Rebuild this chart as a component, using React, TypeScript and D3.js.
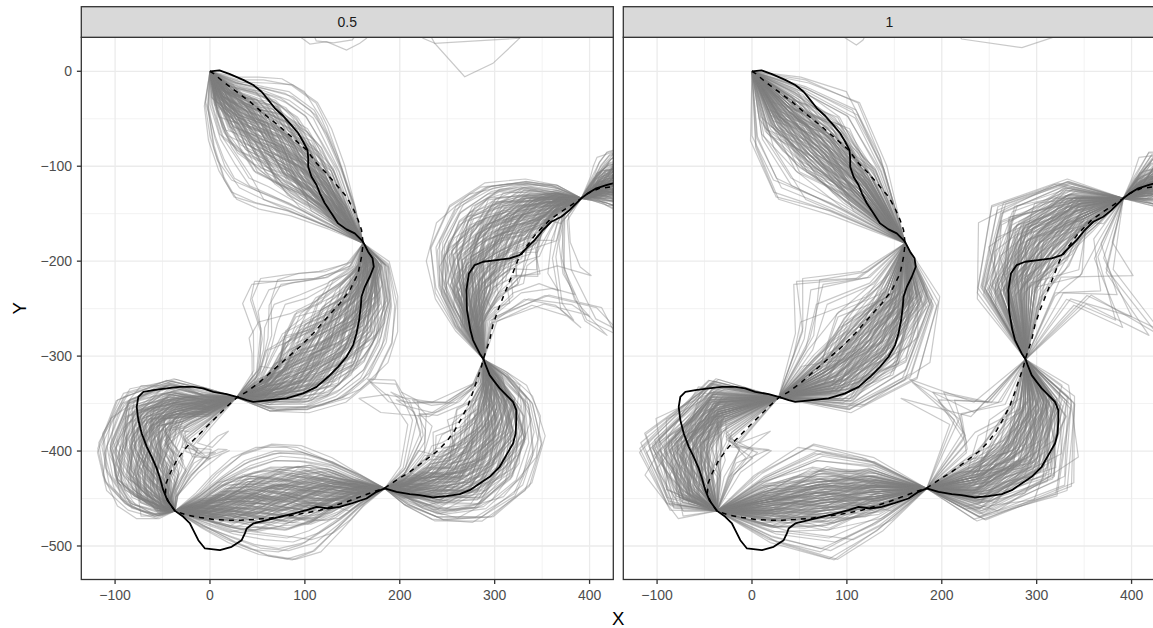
import React from 'react';
import * as d3 from 'd3';

// facet labels and axis breaks
const panels = ['0.5', '1'];
const xTicks = [-100, 0, 100, 200, 300, 400];
const yTicks = [0, -100, -200, -300, -400, -500];
const xMinor = [-50, 50, 150, 250, 350];
const yMinor = [-50, -150, -250, -350, -450];

// waypoints the simulated tracks pass through (last one lies off the panel)
const waypoints: [number, number][] = [
  [0, 0], [161.4, -181.2], [28.1, -343.5], [-36.8, -463], [184.2, -439.4],
  [288.4, -303.5], [391.3, -133.8], [482, -92],
];

// middle of the grey bundle between two waypoints: [x, y, half width of the dense core]
const segCentres: number[][][] = [
  [[14, -24, 20], [33, -44, 27], [53, -60, 30], [72, -78, 30], [90, -96, 28], [113, -121, 24], [138, -152, 17]],
  [[168, -205, 19], [160, -235, 27], [145, -262, 33], [127, -285, 36], [106, -306, 36], [85, -323, 31], [58, -337, 21]],
  [[-3.5, -351.6, 17], [-35, -353.4, 24], [-61.4, -367.4, 30], [-68.4, -395.6, 34], [-65, -420, 34], [-58, -441, 28], [-47, -457, 16]],
  [[-9, -462, 16], [18, -458, 23], [46, -453, 27], [74, -449, 28], [101, -446, 28], [129, -443, 24], [157, -441, 16]],
  [[207, -439, 17], [235, -436, 28], [263, -427, 34], [284, -406, 36], [298, -378, 34], [302, -350, 28], [296.5, -325, 17]],
  [[277, -265.5, 18], [277, -230.5, 30], [284, -202, 36], [300, -178, 38], [319, -160, 35], [344, -146, 27], [368, -137, 17]],
  [[401, -129, 7], [412, -124, 12], [423, -120, 17], [434, -115, 20], [446, -109, 20], [458, -103, 16], [470, -97, 10]],
];

// how far the stray tracks reach past the core: [right-hand side, left-hand side]
const segSpread: [number, number][] = [
  [0.6, 0.45], [0.8, 0.3], [0.2, 0.7], [0.6, 0.45], [0.3, 1.3], [1.4, 0.25], [0.35, 0.3],
];

// position of each grey track inside its bundle, read station by station
const profiles: number[][] = [
  [0.2, 0.5, 0.7, 0.6, 0.8, 0.6, 0.3],
  [-0.3, -0.6, -0.4, -0.7, -0.9, -0.6, -0.4],
  [0.1, -0.2, 0.1, 0.3, 0.1, -0.1, 0.2],
  [0.5, 0.9, 1.2, 1.1, 0.8, 0.9, 0.5],
  [-0.6, -1.0, -1.3, -1.1, -1.2, -0.8, -0.3],
  [0.0, 0.3, -0.1, -0.4, -0.2, 0.1, -0.1],
  [0.4, 0.2, 0.5, 0.2, -0.1, 0.2, 0.0],
  [-0.2, 0.1, 0.4, 0.7, 0.5, 0.3, 0.4],
  [0.3, 0.0, -0.3, -0.5, -0.3, -0.5, -0.2],
  [-0.5, -0.3, 0.0, -0.2, 0.2, 0.4, 0.1],
  [0.8, 1.3, 1.6, 1.9, 1.6, 1.2, 0.7],
  [-0.9, -1.5, -1.9, -2.2, -1.8, -1.4, -0.8],
  [0.1, 0.4, 0.2, 0.5, 0.3, 0.6, 0.2],
  [-0.1, -0.4, -0.7, -0.4, -0.6, -0.2, 0.1],
  [0.6, 0.4, 0.8, 0.5, 0.3, 0.0, 0.2],
  [-0.4, -0.2, -0.5, -0.1, 0.2, -0.1, -0.3],
  [0.2, 0.6, 0.3, 0.0, 0.4, 0.7, 0.4],
  [-0.2, -0.5, -0.9, -0.8, -0.5, -0.7, -0.5],
  [0.0, -0.3, -0.1, 0.2, 0.5, 0.3, 0.1],
  [0.3, 0.7, 0.9, 0.6, 1.0, 0.7, 0.2],
  [-0.7, -0.4, -0.8, -1.0, -0.7, -0.3, -0.1],
  [0.5, 0.2, -0.1, 0.1, -0.2, -0.4, -0.2],
  [-0.1, 0.2, 0.5, 0.3, 0.0, 0.2, -0.1],
  [0.2, -0.1, -0.4, -0.6, -0.9, -0.7, -0.3],
  [1.0, 1.6, 2.1, 2.5, 2.3, 1.7, 0.9],
  [-0.4, -0.8, -0.6, -0.3, -0.5, -0.9, -0.6],
  [0.4, 0.8, 0.6, 0.9, 0.6, 0.3, 0.5],
  [-0.3, 0.0, 0.3, 0.0, -0.3, 0.0, 0.2],
  [0.1, 0.3, 0.6, 0.9, 1.1, 0.8, 0.6],
  [-0.5, -0.9, -1.1, -0.7, -0.4, -0.6, -0.2],
  [0.7, 1.0, 0.7, 0.4, 0.6, 0.3, 0.1],
  [-0.2, -0.1, -0.3, 0.1, -0.1, 0.3, 0.4],
  [0.3, 0.1, 0.3, -0.1, 0.2, 0.0, -0.3],
  [-0.8, -1.3, -1.0, -1.4, -1.1, -0.7, -0.5],
  [0.2, 0.5, 0.9, 1.3, 1.0, 0.6, 0.2],
  [-1.1, -1.8, -2.4, -2.7, -2.4, -1.7, -1.0],
  [0.0, 0.2, 0.0, -0.3, -0.6, -0.4, 0.0],
  [0.6, 0.3, 0.1, 0.4, 0.2, 0.5, 0.7],
  [-0.3, -0.7, -0.4, -0.1, 0.1, -0.2, -0.5],
  [0.4, 0.7, 0.4, 0.7, 0.9, 1.1, 0.6],
  [-0.6, -0.3, -0.6, -0.9, -1.2, -1.0, -0.6],
  [0.1, -0.2, -0.5, -0.2, 0.1, 0.4, 0.3],
  [1.3, 2.1, 2.8, 3.2, 2.9, 2.2, 1.2],
  [-0.1, 0.3, 0.1, 0.4, 0.7, 0.5, 0.2],
  [0.3, 0.5, 0.2, -0.2, -0.1, -0.3, -0.1],
  [-1.2, -2.2, -3.0, -3.3, -2.9, -2.1, -1.1],
  [0.2, 0.0, 0.2, 0.5, 0.3, 0.1, -0.2],
  [-0.4, -0.6, -0.3, -0.5, -0.2, -0.4, -0.6],
];

// stations used by each facet: the coarser step keeps fewer vertices
const stationsHalf = [0, 1, 2, 3, 4, 5, 6];
const stationsOne = [1, 3, 5];

// tracks of a later leg that dip in from above the panel
const topPathsHalf: [number, number][][] = [
  [[80, 60], [94.7, 36.5], [105.3, 28.7], [122.8, 31.2], [143.9, 22.4], [157.9, 29.5], [164.9, 34.8], [180, 60]],
  [[100, 60], [112, 32], [130, 30], [150, 33], [170, 60]],
  [[210, 60], [224.5, 34.8], [236.8, 29.5], [268.4, -5.7], [298.2, 8.4], [326.3, 34.8], [340, 60]],
  [[220, 60], [236.8, 29.5], [298.2, 33], [326.3, 34.8], [345, 60]],
];
const topPathsOne: [number, number][][] = [
  [[85, 60], [96, 36.5], [110, 27.7], [117, 32.9], [130, 60]],
  [[200, 60], [221, 34], [284.5, 24.9], [318.5, 36.2], [330, 60]],
];

// the observed track (solid) and the smooth interpolation (dashed)
const solidPath: [number, number][] = [
  [0, 0], [10, 1], [21, -3], [35, -9], [45.6, -14.4], [54.4, -21.5], [61.4, -30.1], [68.4, -39], [77.2, -47.1],
  [84.2, -54.8], [93, -65.3], [98.2, -74.2], [102.8, -83], [103.5, -91.7], [103.5, -100.5], [107, -111],
  [112.3, -119.8], [115.8, -128.5], [121, -139], [128, -149.6], [135, -160.2], [143.9, -166.5], [152.6, -170.7],
  [159.7, -177.8], [162, -181], [166.6, -190], [171.3, -197], [172.6, -205.9], [168.4, -216.4], [163.2, -227],
  [159.7, -237.5], [158.9, -248], [157.2, -262], [154.4, -276.1], [150.8, -288.4], [143.9, -300.7], [135, -311.3],
  [124.5, -321.8], [112.3, -332.4], [98.2, -339.3], [80.7, -344.6], [63.2, -346.3], [45.6, -348.2], [38.6, -346.4],
  [28.1, -342.9], [17.6, -340.1], [3.5, -337.6], [-7.1, -334], [-17.6, -332.4], [-31.6, -332.4], [-45.6, -334],
  [-59.7, -335.8], [-70.2, -337.6], [-75.5, -342.9], [-77.2, -353.4], [-75.5, -367.4], [-71.9, -381.5],
  [-66.6, -395.6], [-61.4, -406.1], [-56.1, -418.3], [-52.6, -428.9], [-49.2, -441.2], [-44.9, -451.8],
  [-36.8, -463], [-28.1, -469.3], [-21.1, -476.3], [-17.6, -483.3], [-12.3, -493.9], [-5.3, -502.6],
  [10.5, -504.4], [22.8, -500.9], [33.4, -493.9], [36.8, -486.8], [38.6, -481.6], [45.6, -476.3], [59.7, -472.8],
  [73.7, -469.3], [87.7, -465.8], [101.8, -462.3], [112.3, -458.8], [124.5, -460.5], [136.8, -458.8],
  [150.8, -454.6], [164.9, -450], [175.5, -443], [184.2, -439.4], [196.5, -443], [210.5, -445.4], [221, -446.5],
  [235, -448.9], [249.2, -447.5], [263.2, -445.4], [273.7, -441.2], [284.2, -434.1], [294.7, -427.2],
  [305.3, -416.6], [312.3, -404.3], [319.3, -392], [322.1, -381.5], [322.8, -367.4], [322.8, -356.9],
  [319.3, -348.2], [312.3, -341.1], [305.3, -334], [300, -327.1], [294.7, -320], [290.5, -309.5], [288.4, -303.5],
  [284.2, -297.2], [280.7, -290.2], [277.2, -283.1], [274.4, -272.6], [270.8, -251.5], [270.2, -230.5],
  [272.9, -212.9], [278.9, -204.1], [287.7, -200.6], [301.8, -198.8], [315.8, -197], [326.3, -193.6],
  [333.4, -186.5], [342.1, -177.8], [350.8, -167.2], [359.7, -158.5], [370.2, -153.2], [378.9, -146.2],
  [386, -139.1], [391.3, -133.8], [398.2, -128.6], [407.1, -123.3], [417.6, -119.8], [424.5, -118], [445, -112],
];

const dashedPath: [number, number][] = [
  [0, 0], [3.5, -2.1], [14, -11], [28.1, -21.5], [42.1, -32], [56.1, -44.3], [73.7, -58.4], [87.7, -70.6],
  [101.8, -82.9], [112.3, -96.9], [122.8, -107.5], [133.4, -119.8], [143.9, -132.1], [150.8, -144.4],
  [156.1, -156.7], [159.7, -167.2], [161.4, -181.2], [159.7, -195.4], [156.1, -212.9], [147.4, -230.5],
  [136.8, -244.5], [122.8, -260], [108.7, -276.1], [94.7, -290.2], [80.7, -302.4], [66.6, -314.8], [52.6, -327.1],
  [38.6, -337.6], [28, -344], [17.6, -353.4], [3.5, -367.4], [-10.5, -381.5], [-24.5, -395.6], [-35, -409.6],
  [-42.1, -423.6], [-46.3, -434.1], [-47, -445], [-43, -455], [-37, -463], [-24.5, -467.5], [-10.5, -470],
  [3.5, -472.1], [17.6, -472.8], [31.6, -472.8], [45.6, -472.1], [59.7, -471], [73.7, -469.3], [87.7, -467.5],
  [101.8, -465.1], [115.8, -462.3], [129.8, -458.1], [143.9, -453.5], [157.9, -448.3], [171.9, -443], [184, -439],
  [196.5, -430.7], [210.5, -421.9], [224.5, -411.4], [238.6, -400.8], [249.2, -390.3], [258, -378], [265, -365.6],
  [272, -351.6], [277.2, -337.6], [282.5, -321.8], [286, -311.3], [288, -303], [294.7, -283.1], [298.2, -267.3],
  [303.5, -251.5], [310.5, -233.9], [317.6, -216.4], [324.5, -198.8], [333.4, -184.8], [343.9, -170.7],
  [357.9, -156.7], [370.2, -147.9], [380.7, -140.9], [391, -134], [398.2, -128.6], [410.5, -123.3],
  [424.5, -121.6], [445, -117],
];

const W = 1153;
const H = 628;
const panelTop = 37.3;
const panelBottom = 579.5;
const stripTop = 6.7;
const panelW = 532;
const panelLefts = [81.3, 623.3];
const font = '"Liberation Sans", Arial, Helvetica, sans-serif';

const fmt = (v: number) => (v < 0 ? '\u2212' + Math.abs(v) : String(v));

function buildGrey(stations: number[]): [number, number][][] {
  const out: [number, number][][] = [];
  const n = profiles.length;
  segCentres.forEach((centres, s) => {
    const a = waypoints[s];
    const b = waypoints[s + 1];
    const pts: number[][] = [a, ...centres, b];
    const [neg, pos] = segSpread[s];
    profiles.forEach((p, i) => {
      // each profile is used forwards, backwards and mirrored along the leg
      const variants = [
        { cross: p, along: profiles[(i + 17) % n] },
        { cross: p.slice().reverse(), along: profiles[(i + 31) % n] },
        { cross: profiles[(i + 9) % n].map((v) => -v), along: profiles[(i + 5) % n] },
      ];
      variants.forEach(({ cross, along }) => {
        const line: [number, number][] = [a];
        stations.forEach((j) => {
          const prev = pts[j];
          const next = pts[j + 2];
          const dx = next[0] - prev[0];
          const dy = next[1] - prev[1];
          const len = Math.hypot(dx, dy);
          const tx = dx / len;
          const ty = dy / len;
          const v = cross[j];
          const extra = Math.max(Math.abs(v) - 1, 0) * (v > 0 ? pos : neg);
          const k = Math.sign(v) * (Math.min(Math.abs(v), 1) + extra) * centres[j][2];
          const t = along[j] * 0.3 * centres[j][2];
          line.push([centres[j][0] - ty * k + tx * t, centres[j][1] + tx * k + ty * t]);
        });
        line.push(b);
        out.push(line);
      });
    });
  });
  return out;
}

const Panel: React.FC<{ idx: number }> = ({ idx }) => {
  const left = panelLefts[idx];
  const x = d3.scaleLinear().domain([-135.6, 425]).range([left, left + panelW]);
  const y = d3.scaleLinear().domain([-535.3, 35.8]).range([panelBottom, panelTop]);
  const line = d3.line<[number, number]>().x((d) => x(d[0])).y((d) => y(d[1]));
  const grey = buildGrey(idx === 0 ? stationsHalf : stationsOne);
  const tops = idx === 0 ? topPathsHalf : topPathsOne;
  const clipId = `clip-${idx}`;
  return (
    <g>
      <defs>
        <clipPath id={clipId}>
          <rect x={left} y={panelTop} width={panelW} height={panelBottom - panelTop} />
        </clipPath>
      </defs>
      <rect x={left} y={panelTop} width={panelW} height={panelBottom - panelTop} fill="#ffffff" />
      <g clipPath={`url(#${clipId})`}>
        {xMinor.map((t) => (
          <line key={'xm' + t} x1={x(t)} x2={x(t)} y1={panelTop} y2={panelBottom} stroke="#ebebeb" strokeWidth={0.65} />
        ))}
        {yMinor.map((t) => (
          <line key={'ym' + t} x1={left} x2={left + panelW} y1={y(t)} y2={y(t)} stroke="#ebebeb" strokeWidth={0.65} />
        ))}
        {xTicks.map((t) => (
          <line key={'xg' + t} x1={x(t)} x2={x(t)} y1={panelTop} y2={panelBottom} stroke="#ebebeb" strokeWidth={1.3} />
        ))}
        {yTicks.map((t) => (
          <line key={'yg' + t} x1={left} x2={left + panelW} y1={y(t)} y2={y(t)} stroke="#ebebeb" strokeWidth={1.3} />
        ))}
        {grey.map((g, i) => (
          <path key={'g' + i} d={line(g) || ''} fill="none" stroke="#7f7f7f" strokeOpacity={0.42} strokeWidth={1.2} strokeLinejoin="round" />
        ))}
        {tops.map((g, i) => (
          <path key={'t' + i} d={line(g) || ''} fill="none" stroke="#7f7f7f" strokeOpacity={0.42} strokeWidth={1.2} />
        ))}
        <path d={line(dashedPath) || ''} fill="none" stroke="#000000" strokeWidth={1.5} strokeDasharray="5,5" />
        <path d={line(solidPath) || ''} fill="none" stroke="#000000" strokeWidth={1.8} strokeLinejoin="round" />
      </g>
      <rect x={left} y={panelTop} width={panelW} height={panelBottom - panelTop} fill="none" stroke="#333333" strokeWidth={1.3} />
      <rect x={left} y={stripTop} width={panelW} height={panelTop - stripTop} fill="#d9d9d9" stroke="#333333" strokeWidth={1.3} />
      <text x={left + panelW / 2} y={27} textAnchor="middle" fontFamily={font} fontSize={14} fill="#1a1a1a">
        {panels[idx]}
      </text>
      {xTicks.map((t) => (
        <g key={'xt' + t}>
          <line x1={x(t)} x2={x(t)} y1={panelBottom} y2={panelBottom + 4.4} stroke="#333333" strokeWidth={1.3} />
          <text x={x(t)} y={600} textAnchor="middle" fontFamily={font} fontSize={14} fill="#4d4d4d">
            {fmt(t)}
          </text>
        </g>
      ))}
      {idx === 0 &&
        yTicks.map((t) => (
          <g key={'yt' + t}>
            <line x1={left - 4.4} x2={left} y1={y(t)} y2={y(t)} stroke="#333333" strokeWidth={1.3} />
            <text x={72} y={y(t) + 5} textAnchor="end" fontFamily={font} fontSize={14} fill="#4d4d4d">
              {fmt(t)}
            </text>
          </g>
        ))}
    </g>
  );
};

export default function App() {
  return (
    <svg
      width={W}
      height={H}
      viewBox={`0 0 ${W} ${H}`}
      style={{ position: 'absolute', left: 0, top: 0, background: '#ffffff' }}
    >
      <rect x={0} y={0} width={W} height={H} fill="#ffffff" />
      {panels.map((_, i) => (
        <Panel key={i} idx={i} />
      ))}
      <text x={618.3} y={625} textAnchor="middle" fontFamily={font} fontSize={18.6} fill="#000000">
        X
      </text>
      <text
        transform="translate(26,308.4) rotate(-90)"
        textAnchor="middle"
        fontFamily={font}
        fontSize={18.6}
        fill="#000000"
      >
        Y
      </text>
    </svg>
  );
}
